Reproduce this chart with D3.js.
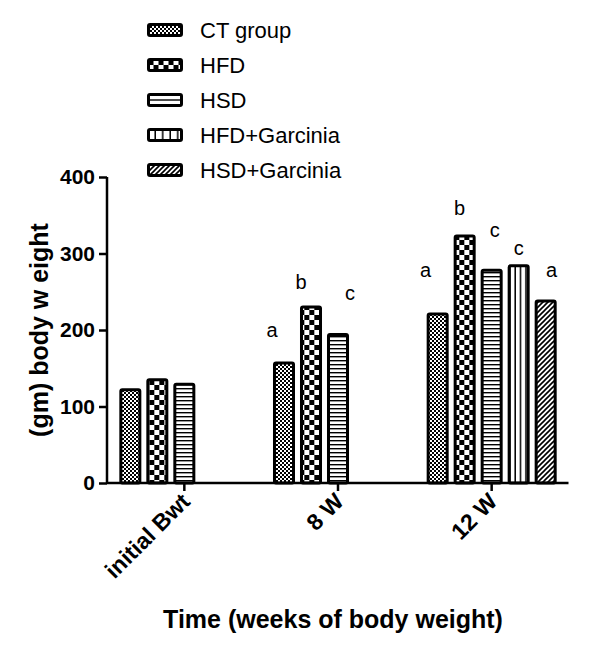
<!DOCTYPE html>
<html><head><meta charset="utf-8">
<script src="https://cdn.jsdelivr.net/npm/d3@7"></script>
<style>body{margin:0;background:#fff;} svg{display:block;font-family:"Liberation Sans",Arial,Helvetica,sans-serif;}</style>
</head><body><svg id="chart" width="600" height="653"></svg>
<script>
// ---- data ----
const categories = ["initial Bwt", "8 W", "12 W"];
const seriesNames = ["CT group", "HFD", "HSD", "HFD+Garcinia", "HSD+Garcinia"];
const ctGroup = [122, 157, 221];
const hfd = [135, 230, 323];
const hsd = [129, 194, 278];
const hfdGarcinia = [null, null, 284];
const hsdGarcinia = [null, null, 238];
const ctLetters = [null, "a", "a"];
const hfdLetters = [null, "b", "b"];
const hsdLetters = [null, "c", "c"];
const hfdGarciniaLetters = [null, null, "c"];
const hsdGarciniaLetters = [null, null, "a"];
const yTicks = [0, 100, 200, 300, 400];

// ---- layout (not data) ----
const letterOffsets = [ // [dx, dy] per series per category
  [[0,0], [-12,-26], [-12,-37]],
  [[0,0], [-10,-18], [-5,-21]],
  [[0,0], [12,-35], [3,-33]],
  [[0,0], [0,0], [0,-11]],
  [[0,0], [0,0], [6,-24]]
];
const patternIds = ["pCT", "pHFD", "pHSD", "pHFDG", "pHSDG"];
const legendPatternIds = ["pCT", "lHFD", "lHSD", "lHFDG", "pHSDG"];

const seriesValues = [ctGroup, hfd, hsd, hfdGarcinia, hsdGarcinia];
const seriesLetters = [ctLetters, hfdLetters, hsdLetters, hfdGarciniaLetters, hsdGarciniaLetters];

const svg = d3.select("#chart");
const defs = svg.append("defs");

function pat(id, w, h, x, y) {
  const p = defs.append("pattern").attr("id", id).attr("patternUnits", "userSpaceOnUse")
    .attr("width", w).attr("height", h).attr("x", x || 0).attr("y", y || 0);
  p.append("rect").attr("width", w).attr("height", h).attr("fill", "#fff");
  return p;
}
let p;
p = pat("pCT", 4, 4);
p.append("rect").attr("width", 2).attr("height", 2).attr("fill", "#000");
p.append("rect").attr("x", 2).attr("y", 2).attr("width", 2).attr("height", 2).attr("fill", "#000");

const x0 = d3.scaleBand().domain(categories).range([107.5, 568.5]).padding(0);
const x1 = d3.scaleBand().domain(seriesNames).range([0, 135]).paddingInner(0.296).paddingOuter(0.148);
const y = d3.scaleLinear().domain([0, 400]).range([483, 177]);
const groupLeft = c => x0(c) + (x0.bandwidth() - 135) / 2;

// HFD checker aligned to bars
p = pat("pHFD", 10, 10, groupLeft(categories[0]) + x1("HFD") + 1.5, 0);
p.append("rect").attr("width", 5).attr("height", 5).attr("fill", "#000");
p.append("rect").attr("x", 5).attr("y", 5).attr("width", 5).attr("height", 5).attr("fill", "#000");

p = pat("pHSD", 4, 4, 0, 0);
p.append("rect").attr("width", 4).attr("height", 1.4).attr("fill", "#000");

p = pat("pHFDG", 16 / 3, 10, groupLeft(categories[2]) + x1("HFD+Garcinia") + 1.5, 0);
p.append("rect").attr("x", 16 / 3 - 1.5).attr("width", 1.5).attr("height", 10).attr("fill", "#000");

p = pat("pHSDG", 5, 5, 0, 0);
p.append("path").attr("d", "M-1,6 L6,-1 M-1,1 L1,-1 M4,6 L6,4").attr("stroke", "#000").attr("stroke-width", 1.6);

// ---- legend ----
const legend = svg.append("g");
const legendRowY = i => 30 + i * 35;
p = pat("lHFD", 10, 8, 148.5, legendRowY(1) - 4);
p.append("rect").attr("x", 0).attr("width", 5).attr("height", 4).attr("fill", "#000");
p.append("rect").attr("x", 5).attr("y", 4).attr("width", 5).attr("height", 4).attr("fill", "#000");
p = pat("lHSD", 40, 8, 0, legendRowY(2) - 4);
p.append("rect").attr("y", 3.3).attr("width", 40).attr("height", 1.4).attr("fill", "#000");
p = pat("lHFDG", 7.5, 10, 148.5, 0);
p.append("rect").attr("x", 6).attr("width", 1.5).attr("height", 10).attr("fill", "#000");

seriesNames.forEach((name, i) => {
  const cy = legendRowY(i);
  legend.append("rect").attr("x", 148.5).attr("y", cy - 5.5).attr("width", 33).attr("height", 11)
    .attr("rx", 1.5).attr("fill", `url(#${legendPatternIds[i]})`).attr("stroke", "#000").attr("stroke-width", 3);
  legend.append("text").attr("x", 200).attr("y", cy + 8).attr("font-size", 22).attr("fill", "#000").text(name);
});

// ---- bars ----
const barsG = svg.append("g");
categories.forEach((c, ci) => {
  seriesNames.forEach((s, si) => {
    const v = seriesValues[si][ci];
    if (v == null) return;
    const bx = groupLeft(c) + x1(s);
    barsG.append("rect").attr("x", bx).attr("y", y(v)).attr("width", x1.bandwidth())
      .attr("height", y(0) - y(v)).attr("rx", 1.5)
      .attr("fill", `url(#${patternIds[si]})`).attr("stroke", "#000").attr("stroke-width", 3);
    const l = seriesLetters[si][ci];
    if (l) {
      const off = letterOffsets[si][ci];
      barsG.append("text").attr("x", bx + x1.bandwidth() / 2 + off[0]).attr("y", y(v) + off[1])
        .attr("text-anchor", "middle").attr("font-size", 20).text(l);
    }
  });
});

// ---- axes ----
const yAxis = d3.axisLeft(y).tickValues(yTicks).tickSize(8).tickPadding(4);
const gy = svg.append("g").attr("transform", "translate(107,0)").call(yAxis);
gy.select(".domain").attr("stroke-width", 2.5).attr("d", `M0,${y(0)}V${y(400)}`);
gy.selectAll(".tick line").attr("stroke-width", 2.5);
gy.selectAll(".tick text").attr("font-size", 21).attr("font-weight", "bold").attr("fill", "#000")
  .attr("font-family", "Liberation Sans, Arial, sans-serif");

const xAxis = d3.axisBottom(x0).tickSize(8).tickFormat("");
const gx = svg.append("g").attr("transform", `translate(0,${y(0)})`).call(xAxis);
gx.select(".domain").attr("stroke-width", 2.5).attr("d", "M107,0H568.5");
gx.selectAll(".tick line").attr("stroke-width", 2.5);

// rotated category labels
svg.append("g").selectAll("text").data(categories).join("text")
  .attr("transform", d => `translate(${x0(d) + x0.bandwidth() / 2 + 7},${y(0) + 20}) rotate(-45)`)
  .attr("text-anchor", "end").attr("font-size", 23).attr("font-weight", "bold").text(d => d);

// axis titles
svg.append("text").attr("transform", "translate(48,330) rotate(-90)")
  .attr("text-anchor", "middle").attr("font-size", 25).attr("font-weight", "bold")
  .text("(gm) body w eight");
svg.append("text").attr("x", 333).attr("y", 628)
  .attr("text-anchor", "middle").attr("font-size", 25).attr("font-weight", "bold")
  .text("Time (weeks of body weight)");
</script></body></html>
